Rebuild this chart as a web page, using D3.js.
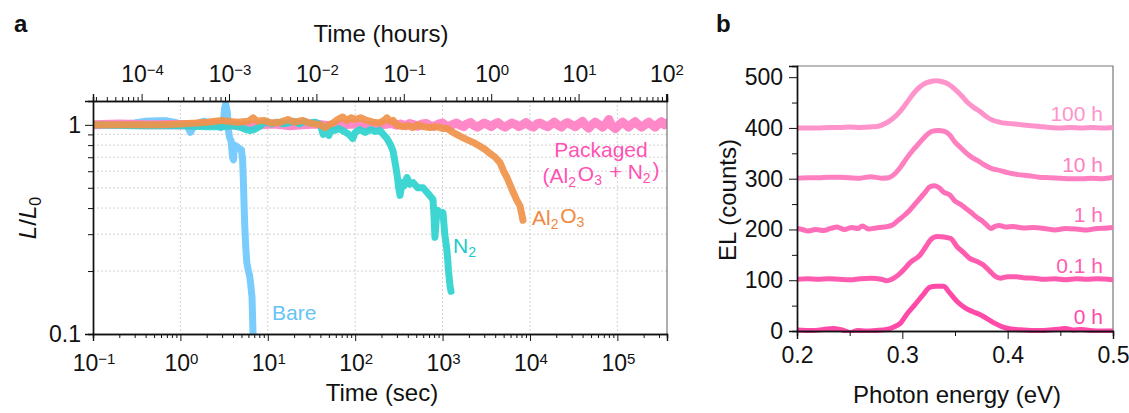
<!DOCTYPE html>
<html>
<head>
<meta charset="utf-8">
<script src="https://cdn.jsdelivr.net/npm/d3@7"></script>
<style>
  body { margin: 0; background: #fff; }
  text { font-family: "Liberation Sans", Arial, sans-serif; fill: #111; }
</style>
</head>
<body>
<div id="chart"></div>
<script>
// panel a: time (sec), L/L0 for each device
var bareData = [[0.1,1.0],[0.15,1.0],[0.22,1.01],[0.3,1.02],[0.4,1.04],[0.55,1.045],[0.7,1.045],[0.85,1.03],[1.0,1.01],[1.2,0.99],[1.3,0.92],[1.4,0.97],[1.55,1.0],[1.7,1.03],[1.9,1.04],[2.1,1.01],[2.4,1.0],[2.7,1.0],[2.9,0.97],[3.1,1.0],[3.2,1.2],[3.3,1.26],[3.45,1.14],[3.55,0.94],[3.65,0.87],[3.8,0.84],[3.95,0.70],[4.05,0.68],[4.15,0.8],[4.4,0.79],[4.7,0.77],[5.0,0.76],[5.15,0.68],[5.25,0.55],[5.35,0.42],[5.45,0.33],[5.6,0.26],[5.75,0.22],[6.0,0.2],[6.2,0.19],[6.4,0.17],[6.6,0.15],[6.7,0.12],[6.8,0.095]];
var n2Data = [[0.1,1.0],[0.3,0.99],[1,0.99],[2,0.98],[3,0.98],[4,0.99],[5,0.97],[5.6,0.95],[6.2,0.94],[7,0.95],[8,0.98],[9,1.02],[10,1.03],[11,1.01],[13,1.03],[15,1.01],[17,1.02],[20,1.04],[23,1.01],[26,1.04],[30,1.02],[35,1.03],[40,1.0],[43,0.9],[46,0.97],[50,0.89],[53,0.95],[58,0.94],[65,0.96],[75,0.93],[85,0.9],[94,0.86],[100,0.92],[113,0.95],[130,0.92],[150,0.95],[170,0.93],[192,0.94],[210,0.9],[231,0.86],[255,0.8],[271,0.75],[290,0.64],[301,0.58],[315,0.5],[326,0.46],[345,0.53],[360,0.51],[392,0.56],[420,0.52],[459,0.53],[520,0.5],[597,0.5],[680,0.47],[777,0.44],[800,0.36],[818,0.29],[850,0.36],[885,0.39],[950,0.37],[1011,0.38],[1060,0.3],[1123,0.25],[1170,0.2],[1216,0.17],[1250,0.16]];
var al2o3Data = [[0.1,1.0],[0.3,1.0],[0.6,1.0],[1,1.01],[1.5,1.02],[2,1.03],[2.5,1.04],[3,1.05],[3.5,1.04],[4.5,1.03],[6,1.04],[6.8,1.08],[7.5,1.04],[9,1.05],[11,1.02],[14,1.03],[17,1.06],[20,1.03],[25,1.05],[30,1.02],[35,1.01],[40,1.0],[45,0.97],[50,1.0],[56,1.02],[63,1.06],[72,1.09],[80,1.05],[90,1.08],[100,1.06],[115,1.08],[136,1.05],[160,1.03],[190,1.02],[215,1.05],[231,1.08],[250,1.04],[271,1.05],[300,1.0],[350,0.98],[400,0.99],[459,0.97],[520,1.0],[600,0.98],[700,0.97],[863,0.98],[1000,0.96],[1123,0.96],[1315,0.92],[1600,0.88],[1902,0.85],[2300,0.82],[2680,0.79],[3100,0.76],[3486,0.73],[4000,0.7],[4539,0.66],[5000,0.6],[5458,0.56],[6385,0.48],[7000,0.44],[7687,0.41],[8100,0.37],[8318,0.35]];
var packagedData = [[0.1,1.0],[0.2,1.01],[0.4,1.0],[0.8,1.005],[1.5,1.0],[3,1.01],[5,0.99],[8,1.0],[12,1.01],[18,0.99],[25,1.0],[35,1.01],[50,0.99],[70,1.0],[100,1.01],[140,0.99],[200,1.0],[260,1.015],[300,0.995],[330,1.01],[380,0.99],[420,1.015],[470,1.0],[520,0.985],[580,1.01],[650,1.015],[720,0.99],[800,0.985],[900,1.01],[1000,1.02],[1100,0.99],[1200,0.985],[1320,1.005],[1450,1.02],[1600,0.995],[1750,0.98],[1900,1.01],[2100,1.025],[2300,0.99],[2500,0.975],[2750,1.0],[3000,1.02],[3300,1.0],[3600,0.98],[3950,1.01],[4300,1.025],[4700,0.995],[5200,0.975],[5700,1.0],[6200,1.02],[6800,1.005],[7500,0.98],[8200,1.0],[9000,1.025],[10000,0.99],[11000,0.975],[12000,1.01],[13000,1.02],[14500,0.995],[16000,0.98],[17500,1.005],[19000,1.03],[21000,0.995],[23000,0.975],[25000,1.01],[27000,1.025],[30000,1.0],[33000,0.98],[36000,1.01],[40000,1.04],[43000,0.995],[47000,0.965],[51000,1.0],[56000,1.03],[62000,1.0],[68000,0.975],[74000,1.01],[80000,1.06],[86000,0.99],[95000,0.96],[105000,1.0],[115000,1.03],[125000,1.0],[135000,0.975],[147000,1.01],[160000,1.035],[175000,1.0],[190000,0.975],[210000,1.005],[230000,1.03],[250000,1.0],[270000,0.975],[295000,1.01],[320000,1.035],[345000,1.0],[370000,1.02]];

var secTicks = [0.1, 1, 10, 100, 1000, 10000, 100000];
var secExps = ["\u22121", "0", "1", "2", "3", "4", "5"];
var hourTicks = [1e-4, 1e-3, 1e-2, 1e-1, 1, 10, 100];
var hourExps = ["\u22124", "\u22123", "\u22122", "\u22121", "0", "1", "2"];
var ratioTicks = [0.1, 1];
var ratioMinor = [0.2, 0.3, 0.4, 0.5, 0.6, 0.7, 0.8, 0.9];

// panel b: photon energy (eV), EL counts above each baseline
var spectrum0h = [[0.2,2],[0.215,1],[0.225,3],[0.235,5],[0.243,2],[0.25,-3],[0.258,1],[0.265,0],[0.275,1],[0.285,3],[0.292,8],[0.298,15],[0.305,35],[0.312,52],[0.32,72],[0.326,86],[0.332,88],[0.339,88],[0.345,75],[0.352,58],[0.36,45],[0.367,38],[0.373,33],[0.38,25],[0.388,15],[0.395,8],[0.403,4],[0.415,2],[0.43,1],[0.44,2],[0.45,4],[0.455,5],[0.462,2],[0.47,3],[0.478,1],[0.49,0],[0.5,0]];
var spectrum01h = [[0.2,2],[0.21,3],[0.22,2],[0.23,3],[0.24,2],[0.25,1],[0.26,3],[0.27,4],[0.28,2],[0.285,-1],[0.29,2],[0.296,10],[0.302,22],[0.307,34],[0.317,50],[0.322,65],[0.327,80],[0.333,86],[0.34,85],[0.346,82],[0.352,66],[0.358,55],[0.364,43],[0.371,37],[0.377,30],[0.383,18],[0.388,8],[0.393,4],[0.4,7],[0.408,7],[0.415,5],[0.425,4],[0.435,2],[0.445,3],[0.455,1],[0.465,3],[0.475,2],[0.485,3],[0.5,1]];
var spectrum1h = [[0.2,2],[0.205,0],[0.21,-3],[0.218,0],[0.225,-2],[0.232,2],[0.238,5],[0.245,0],[0.252,4],[0.258,2],[0.262,7],[0.268,1],[0.275,3],[0.283,5],[0.29,8],[0.296,18],[0.302,28],[0.307,38],[0.312,50],[0.317,62],[0.322,74],[0.326,84],[0.331,86],[0.335,82],[0.339,74],[0.345,68],[0.35,56],[0.355,50],[0.36,42],[0.365,34],[0.37,25],[0.375,18],[0.38,9],[0.384,2],[0.388,6],[0.392,8],[0.398,5],[0.405,6],[0.415,3],[0.425,4],[0.435,2],[0.445,-1],[0.455,2],[0.465,1],[0.475,-1],[0.485,2],[0.495,3],[0.5,4]];
var spectrum10h = [[0.2,1],[0.21,2],[0.22,2],[0.23,3],[0.24,3],[0.25,2],[0.26,1],[0.27,4],[0.28,1],[0.287,2],[0.292,8],[0.298,22],[0.304,40],[0.31,56],[0.316,70],[0.322,84],[0.328,93],[0.334,95],[0.34,93],[0.345,86],[0.35,72],[0.355,62],[0.36,52],[0.366,42],[0.372,35],[0.378,27],[0.385,20],[0.393,16],[0.4,12],[0.41,8],[0.42,6],[0.43,3],[0.44,2],[0.45,1],[0.46,0],[0.47,0],[0.48,1],[0.49,0],[0.5,3]];
var spectrum100h = [[0.2,0],[0.21,0],[0.22,0],[0.23,1],[0.24,1],[0.25,2],[0.26,1],[0.27,2],[0.276,3],[0.282,7],[0.288,14],[0.295,26],[0.3,38],[0.305,52],[0.31,66],[0.315,78],[0.32,86],[0.326,91],[0.332,93],[0.338,91],[0.344,86],[0.35,76],[0.356,64],[0.362,50],[0.368,40],[0.374,32],[0.38,22],[0.386,15],[0.393,11],[0.4,9],[0.41,7],[0.42,5],[0.43,3],[0.44,1],[0.45,0],[0.46,1],[0.47,0],[0.48,1],[0.49,0],[0.5,1]];
var spectrumLabels = ["0 h", "0.1 h", "1 h", "10 h", "100 h"];
var spectrumOffsets = [0, 100, 200, 300, 400];
var energyTicks = [0.2, 0.3, 0.4, 0.5];
var countTicks = [0, 100, 200, 300, 400, 500];

var svg = d3.select("#chart").append("svg")
  .attr("width", 1129)
  .attr("height", 413);

// superscript helper for 10^n labels
function powerLabel(sel, exp) {
  sel.text("");
  sel.append("tspan").text("10");
  sel.append("tspan").attr("dy", "-0.5em").style("font-size", "15px").text(exp);
}

// ---------- panel a ----------
var a = { left: 93, right: 667, top: 101, bottom: 334 };

var xSec = d3.scaleLog().domain([0.1, 3.7e5]).range([a.left, a.right]);
var xHour = d3.scaleLog().domain([0.1 / 3600, 3.7e5 / 3600]).range([a.left, a.right]);
var yRatio = d3.scaleLog().domain([0.1, 1.3]).range([a.bottom, a.top]);

var gA = svg.append("g");

// grid lines
gA.selectAll("line.vgrid").data(secTicks.slice(1)).enter().append("line")
  .attr("x1", function (d) { return xSec(d); })
  .attr("x2", function (d) { return xSec(d); })
  .attr("y1", a.top).attr("y2", a.bottom)
  .attr("stroke", "#c8c8c8").attr("stroke-width", 0.8).attr("stroke-dasharray", "2,2");
gA.selectAll("line.hgrid").data(ratioMinor.concat([1])).enter().append("line")
  .attr("x1", a.left).attr("x2", a.right)
  .attr("y1", function (d) { return yRatio(d); })
  .attr("y2", function (d) { return yRatio(d); })
  .attr("stroke", "#c8c8c8").attr("stroke-width", 0.8).attr("stroke-dasharray", "2,2");

// curves
svg.append("clipPath").attr("id", "clipA").append("rect")
  .attr("x", a.left).attr("y", a.top).attr("width", a.right - a.left).attr("height", a.bottom - a.top);

var lineA = d3.line()
  .x(function (d) { return xSec(d[0]); })
  .y(function (d) { return yRatio(d[1]); });

var seriesA = [
  { data: bareData, color: "#6ec8fb", width: 7 },
  { data: packagedData, color: "#ff7fc3", width: 9 },
  { data: n2Data, color: "#2ed2cf", width: 7 },
  { data: al2o3Data, color: "#f0924a", width: 7 }
];
var curves = gA.append("g").attr("clip-path", "url(#clipA)");
seriesA.forEach(function (s) {
  curves.append("path")
    .datum(s.data)
    .attr("fill", "none")
    .attr("stroke", s.color)
    .attr("stroke-width", s.width)
    .attr("stroke-linejoin", "round")
    .attr("stroke-linecap", "round")
    .attr("opacity", 0.92)
    .attr("d", lineA);
});

// frame
gA.append("line").attr("x1", a.right).attr("x2", a.right).attr("y1", a.top).attr("y2", a.bottom)
  .attr("stroke", "#777").attr("stroke-width", 1.2);

// minor ticks lists
function minorTicks(lo, hi) {
  var out = [];
  for (var e = Math.floor(Math.log10(lo)); e <= Math.ceil(Math.log10(hi)); e++) {
    for (var m = 2; m <= 9; m++) {
      var v = m * Math.pow(10, e);
      if (v > lo && v < hi) out.push(v);
    }
  }
  return out;
}

// bottom axis
var bottomAxis = gA.append("g").attr("transform", "translate(0," + a.bottom + ")")
  .call(d3.axisBottom(xSec).tickValues(secTicks).tickSize(7).tickFormat(""));
bottomAxis.append("g").call(d3.axisBottom(xSec).tickValues(minorTicks(0.1, 3.7e5)).tickSize(4).tickFormat(""));
bottomAxis.selectAll("path.domain").attr("stroke", "#111").attr("stroke-width", 1.4);
bottomAxis.selectAll(".tick line").attr("stroke", "#111");
gA.selectAll("text.xlab").data(secTicks).enter().append("text")
  .attr("x", function (d) { return xSec(d) + 1; })
  .attr("y", 371)
  .attr("text-anchor", "middle")
  .style("font-size", "23px")
  .each(function (d, i) { powerLabel(d3.select(this), secExps[i]); });

// top axis (hours)
var topAxis = gA.append("g").attr("transform", "translate(0," + a.top + ")")
  .call(d3.axisTop(xHour).tickValues(hourTicks).tickSize(7).tickFormat(""));
topAxis.append("g").call(d3.axisTop(xHour).tickValues(minorTicks(0.1 / 3600, 3.7e5 / 3600)).tickSize(4).tickFormat(""));
topAxis.selectAll("path.domain").attr("stroke", "#111").attr("stroke-width", 1.4);
topAxis.selectAll(".tick line").attr("stroke", "#111");
gA.selectAll("text.hlab").data(hourTicks).enter().append("text")
  .attr("x", function (d) { return xHour(d) + 1; })
  .attr("y", 82)
  .attr("text-anchor", "middle")
  .style("font-size", "23px")
  .each(function (d, i) { powerLabel(d3.select(this), hourExps[i]); });

// left axis
var leftAxis = gA.append("g").attr("transform", "translate(" + a.left + ",0)")
  .call(d3.axisLeft(yRatio).tickValues(ratioTicks).tickSize(8).tickFormat(function (d) { return d === 1 ? "1" : "0.1"; }));
leftAxis.append("g").call(d3.axisLeft(yRatio).tickValues(ratioMinor).tickSize(5).tickFormat(""));
leftAxis.selectAll("path.domain").attr("stroke", "#111").attr("stroke-width", 1.4);
leftAxis.selectAll(".tick text").style("font-size", "23px").attr("fill", "#111")
  .style("font-family", "Liberation Sans, Arial, sans-serif").attr("x", -12);
leftAxis.selectAll(".tick line").attr("stroke", "#111");

// axis titles
gA.append("text").attr("x", 381).attr("y", 42).attr("text-anchor", "middle")
  .style("font-size", "24px").text("Time (hours)");
gA.append("text").attr("x", 382).attr("y", 401).attr("text-anchor", "middle")
  .style("font-size", "24px").text("Time (sec)");
var yTitle = gA.append("text").attr("transform", "translate(36,218) rotate(-90)")
  .attr("text-anchor", "middle").style("font-size", "24px");
yTitle.append("tspan").style("font-style", "italic").text("L");
yTitle.append("tspan").text("/");
yTitle.append("tspan").style("font-style", "italic").text("L");
yTitle.append("tspan").attr("dy", "0.3em").style("font-size", "16px").text("0");

// series labels
function subLabel(x, y, color, parts, anchor) {
  var t = gA.append("text").attr("x", x).attr("y", y).attr("text-anchor", anchor || "start")
    .style("font-size", "21px").style("fill", color);
  parts.forEach(function (p) {
    if (p.sub) {
      t.append("tspan").attr("dy", "0.3em").style("font-size", "14px").text(p.t);
      t.append("tspan").attr("dy", "-0.3em").text("\u200a");
    } else {
      t.append("tspan").text(p.t);
    }
  });
  return t;
}
subLabel(272, 320, "#66c3f8", [{ t: "Bare" }]);
subLabel(453, 253, "#22c9c9", [{ t: "N" }, { t: "2", sub: true }]);
subLabel(532, 225, "#f0893d", [{ t: "Al" }, { t: "2", sub: true }, { t: "O" }, { t: "3", sub: true }]);
subLabel(601, 157, "#ff52b3", [{ t: "Packaged" }], "middle");
subLabel(601, 183, "#ff52b3", [{ t: "(Al" }, { t: "2", sub: true }, { t: "O" }, { t: "3", sub: true }, { t: " + N" }, { t: "2", sub: true }, { t: ")" }], "middle");

// panel letter
svg.append("text").attr("x", 14).attr("y", 32).style("font-size", "24px").style("font-weight", "bold").text("a");

// ---------- panel b ----------
var b = { left: 797, right: 1113, top: 66, bottom: 331 };
var xE = d3.scaleLinear().domain([0.2, 0.5]).range([b.left, b.right]);
var yEL = d3.scaleLinear().domain([0, 522]).range([b.bottom, b.top]);

var gB = svg.append("g");
var spectra = [spectrum0h, spectrum01h, spectrum1h, spectrum10h, spectrum100h];
var spectrumColors = ["#ff4aa8", "#ff5cb0", "#ff6fb9", "#ff80c1", "#ff93cb"];

// frame top/right
gB.append("path")
  .attr("d", "M" + b.left + "," + b.top + "H" + b.right + "V" + b.bottom)
  .attr("fill", "none").attr("stroke", "#777").attr("stroke-width", 1.2);

svg.append("clipPath").attr("id", "clipB").append("rect")
  .attr("x", b.left).attr("y", b.top - 10).attr("width", b.right - b.left).attr("height", b.bottom - b.top + 12);

var lineB = d3.line().curve(d3.curveMonotoneX);
var curvesB = gB.append("g").attr("clip-path", "url(#clipB)");
spectra.forEach(function (data, i) {
  lineB.x(function (d) { return xE(d[0]); })
    .y(function (d) { return yEL(d[1] + spectrumOffsets[i]); });
  curvesB.append("path")
    .datum(data)
    .attr("fill", "none")
    .attr("stroke", spectrumColors[i])
    .attr("stroke-width", 5)
    .attr("stroke-linejoin", "round")
    .attr("d", lineB);
  gB.append("text")
    .attr("x", 1103)
    .attr("y", yEL(spectrumOffsets[i]) - 7)
    .attr("text-anchor", "end")
    .style("font-size", "21px")
    .style("fill", spectrumColors[i])
    .text(spectrumLabels[i]);
});

var bottomB = gB.append("g").attr("transform", "translate(0," + b.bottom + ")")
  .call(d3.axisBottom(xE).tickValues(energyTicks).tickSize(8).tickFormat(d3.format(".1f")));
bottomB.append("g").call(d3.axisBottom(xE).tickValues([0.25, 0.35, 0.45]).tickSize(5).tickFormat(""));
var leftB = gB.append("g").attr("transform", "translate(" + b.left + ",0)")
  .call(d3.axisLeft(yEL).tickValues(countTicks).tickSize(8).tickFormat(d3.format("d")));
leftB.append("g").call(d3.axisLeft(yEL).tickValues([50, 150, 250, 350, 450]).tickSize(5).tickFormat(""));
[bottomB, leftB].forEach(function (ax) {
  ax.selectAll("path.domain").attr("stroke", "#111").attr("stroke-width", 1.4);
  ax.selectAll(".tick line").attr("stroke", "#111");
  ax.selectAll(".tick text").style("font-size", "23px").attr("fill", "#111")
    .style("font-family", "Liberation Sans, Arial, sans-serif");
});
bottomB.selectAll(".tick text").attr("y", 16);
leftB.selectAll(".tick text").attr("x", -14);

gB.append("text").attr("x", 957).attr("y", 403).attr("text-anchor", "middle")
  .style("font-size", "24px").text("Photon energy (eV)");
gB.append("text").attr("transform", "translate(736,200) rotate(-90)").attr("text-anchor", "middle")
  .style("font-size", "24px").text("EL (counts)");

svg.append("text").attr("x", 716).attr("y", 32).style("font-size", "24px").style("font-weight", "bold").text("b");
</script>
</body>
</html>
